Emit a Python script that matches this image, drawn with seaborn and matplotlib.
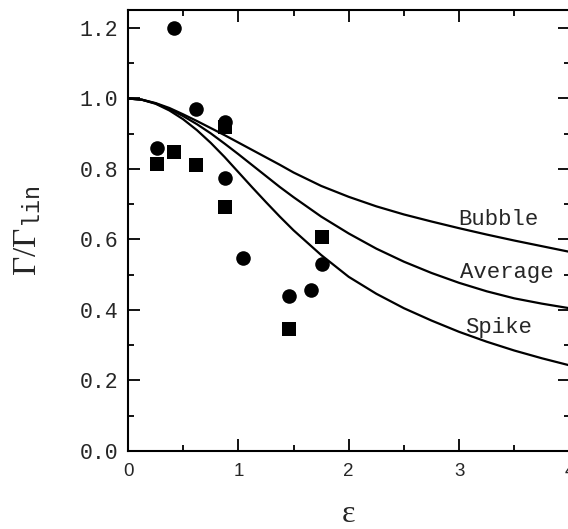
import matplotlib
matplotlib.use("Agg")
import matplotlib.pyplot as plt
import seaborn as sns
import pandas as pd
from matplotlib.ticker import MultipleLocator

# ---- data ----
eps = [0.0, 0.125, 0.25, 0.375, 0.5, 0.625, 0.75, 0.875, 1.0, 1.125, 1.25, 1.375, 1.5,
       1.75, 2.0, 2.25, 2.5, 2.75, 3.0, 3.25, 3.5, 3.75, 4.0]
bubble = [1.0, 0.9967, 0.987, 0.973, 0.955, 0.936, 0.916, 0.896, 0.875, 0.854, 0.833, 0.812, 0.790,
          0.752, 0.721, 0.694, 0.671, 0.651, 0.632, 0.614, 0.597, 0.581, 0.565]
average = [1.0, 0.9965, 0.986, 0.970, 0.950, 0.927, 0.901, 0.872, 0.842, 0.811, 0.780, 0.749, 0.720,
           0.665, 0.617, 0.574, 0.537, 0.505, 0.477, 0.453, 0.433, 0.418, 0.405]
spike = [1.0, 0.9965, 0.985, 0.966, 0.941, 0.910, 0.874, 0.834, 0.791, 0.748, 0.706, 0.665, 0.626,
         0.556, 0.494, 0.446, 0.405, 0.370, 0.338, 0.310, 0.285, 0.263, 0.243]

circle_x = [0.26, 0.42, 0.62, 0.88, 0.88, 1.045, 1.46, 1.66, 1.76]
circle_y = [0.859, 1.200, 0.970, 0.934, 0.774, 0.548, 0.441, 0.457, 0.530]
square_x = [0.26, 0.42, 0.62, 0.88, 0.88, 1.46, 1.76]
square_y = [0.814, 0.849, 0.811, 0.920, 0.693, 0.346, 0.608]

curve_names = ["Bubble", "Average", "Spike"]
x_ticks = [0, 1, 2, 3, 4]
y_ticks = [0.0, 0.2, 0.4, 0.6, 0.8, 1.0, 1.2]

# ---- style ----
sns.set_style("ticks")
plt.rcParams["font.family"] = ["Liberation Mono", "DejaVu Sans"]
plt.rcParams["mathtext.fontset"] = "custom"
plt.rcParams["mathtext.rm"] = "Liberation Serif"
plt.rcParams["mathtext.it"] = "Liberation Serif:italic"
plt.rcParams["mathtext.tt"] = "Liberation Mono"

n = len(eps)
curves = pd.DataFrame({
    "eps": eps * 3,
    "val": bubble + average + spike,
    "model": [curve_names[0]] * n + [curve_names[1]] * n + [curve_names[2]] * n,
})
circles = pd.DataFrame({"x": circle_x, "y": circle_y})
squares = pd.DataFrame({"x": square_x, "y": square_y})

fig = plt.figure(figsize=(5.68, 5.29), dpi=100)
ax = fig.add_axes([128 / 568, 1 - 451 / 529, (569.5 - 128) / 568, (451 - 10) / 529])

sns.lineplot(data=curves, x="eps", y="val", units="model", estimator=None,
             color="black", linewidth=1.6, legend=False, ax=ax)
sns.scatterplot(data=circles, x="x", y="y", marker="o", s=110, color="black",
                linewidth=0, legend=False, ax=ax, zorder=3)
sns.scatterplot(data=squares, x="x", y="y", marker="s", s=105, color="black",
                linewidth=0, legend=False, ax=ax, zorder=3)

ax.set_xlim(0, 4)
ax.set_ylim(0, 1.251)
ax.set_xticks(x_ticks)
ax.set_yticks(y_ticks)
ax.xaxis.set_minor_locator(MultipleLocator(0.5))
ax.yaxis.set_minor_locator(MultipleLocator(0.1))
ax.set_yticklabels([f"{v:.1f}" for v in y_ticks], fontsize=15.5, family="Liberation Mono")
ax.set_xticklabels([str(v) for v in x_ticks], fontsize=13.5, family="Liberation Sans")

for s in ax.spines.values():
    s.set_visible(True)
    s.set_linewidth(1.5)
    s.set_color("black")
ax.tick_params(which="both", direction="in", top=True, right=True, width=1.3, color="black")
ax.tick_params(which="major", length=8.5)
ax.tick_params(which="minor", length=4.5)
ax.tick_params(axis="y", which="major", pad=7)
ax.tick_params(axis="x", which="major", pad=9)

ax.set_xlabel("ε", family="Liberation Serif", fontsize=23, labelpad=14)
ax.set_ylabel(r"$\mathrm{\Gamma/\Gamma}_{\mathtt{lin}}$", fontsize=24, labelpad=26)

ax.text(2.99, 0.641, curve_names[0], fontsize=16, family="Liberation Mono", va="baseline", ha="left")
ax.text(3.01, 0.490, curve_names[1], fontsize=16, family="Liberation Mono", va="baseline", ha="left")
ax.text(3.05, 0.334, curve_names[2], fontsize=16, family="Liberation Mono", va="baseline", ha="left")

fig.savefig("out.png", dpi=100)
